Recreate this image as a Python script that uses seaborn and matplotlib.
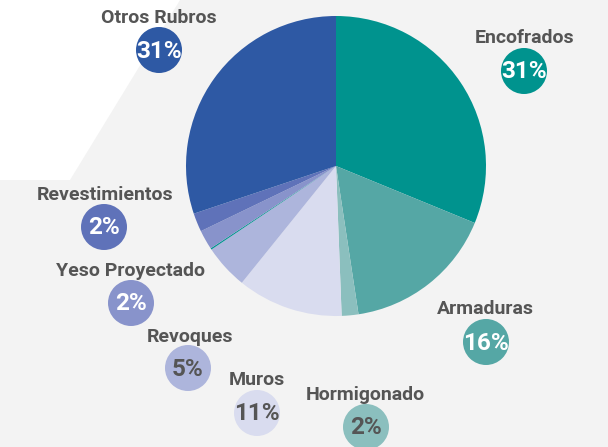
import matplotlib.pyplot as plt
import seaborn as sns
from matplotlib.patches import Polygon, Circle

# Slice data, clockwise from the top
categories = ["Encofrados", "Armaduras", "Hormigonado", "Muros", "Revoques", "",
              "Yeso Proyectado", "Revestimientos", "Otros Rubros"]
shares = [31.2, 16.4, 1.8, 11.4, 4.8, 0.15, 2.1, 2.0, 30.15]
pct_labels = ["31%", "16%", "2%", "11%", "5%", "", "2%", "2%", "31%"]
colors = ["#00938e", "#55a7a5", "#8bbfbe", "#d9dcef", "#adb5dc", "#00938e",
          "#8893cb", "#5f72b9", "#2e59a4"]
dark_text = [False, False, True, True, True, False, False, False, False]

# Label placement (pixel coords, y from top)
label_pos = {
    "Encofrados": (525, 38, 524, 71),
    "Armaduras": (485, 309, 486, 342),
    "Hormigonado": (365, 395, 366, 427),
    "Muros": (257, 380, 257, 413),
    "Revoques": (190, 337, 188, 368),
    "Yeso Proyectado": (130, 271, 131, 303),
    "Revestimientos": (105, 195, 104, 227),
    "Otros Rubros": (159, 18, 159, 50),
}

sns.set_theme(style="white")
plt.rcParams["font.family"] = ["Roboto", "DejaVu Sans"]

W, H = 608, 447
fig = plt.figure(figsize=(W / 100, H / 100), dpi=100)
fig.patch.set_facecolor("#f3f3f3")
ax = fig.add_axes([0, 0, 1, 1])
ax.set_xlim(0, W)
ax.set_ylim(0, H)
ax.set_aspect("equal")
ax.axis("off")

# white background shape in the top-left corner
ax.add_patch(Polygon([(0, H), (180, H), (70, H - 180), (0, H - 180)],
                     closed=True, facecolor="white", edgecolor="none", zorder=0))

ax.pie(shares, colors=colors, startangle=90, counterclock=False,
       center=(336, H - 166), radius=150,
       wedgeprops={"linewidth": 0, "antialiased": True})
ax.set_xlim(0, W)
ax.set_ylim(0, H)

for cat, pct, col, dark in zip(categories, pct_labels, colors, dark_text):
    if not cat:
        continue
    tx, ty, cx, cy = label_pos[cat]
    ax.text(tx, H - ty, cat, ha="center", va="center", fontsize=14,
            fontweight="bold", color="#555555", zorder=3)
    ax.add_patch(Circle((cx, H - cy), 23, facecolor=col, edgecolor="none", zorder=2))
    ax.text(cx, H - cy - 1, pct, ha="center", va="center", fontsize=17.5,
            fontweight="bold", color="#555555" if dark else "white", zorder=3)

fig.savefig("out.png", dpi=100, facecolor=fig.get_facecolor())
